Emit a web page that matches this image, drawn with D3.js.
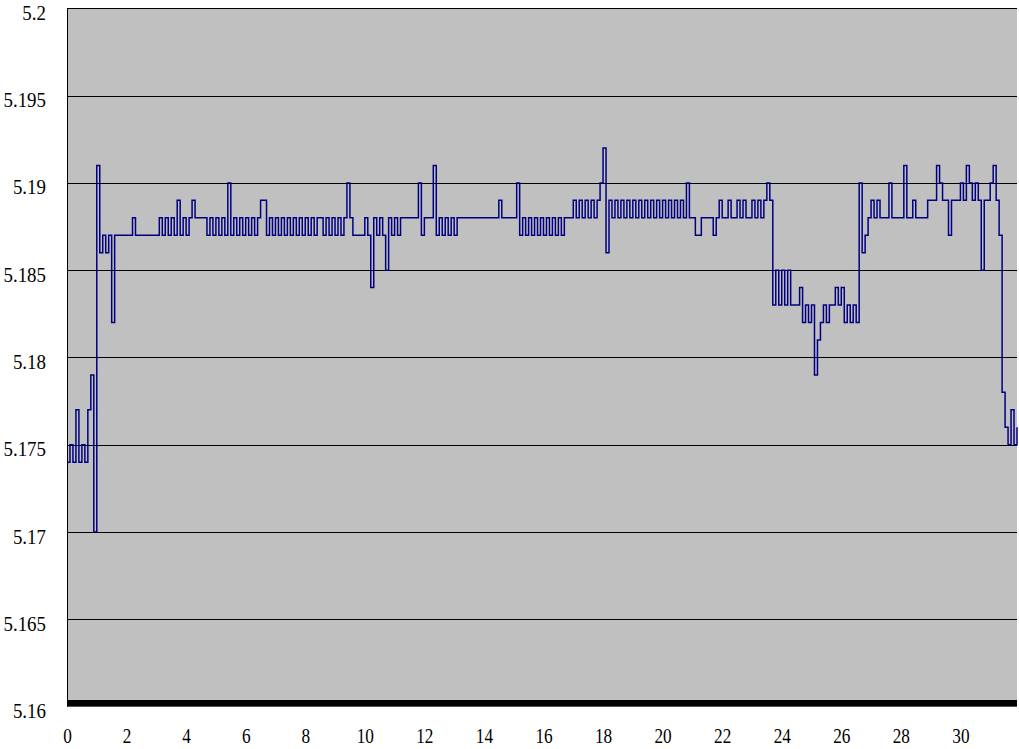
<!DOCTYPE html>
<html>
<head>
<meta charset="utf-8">
<script src="https://cdn.jsdelivr.net/npm/d3@7"></script>
<style>
  html, body { margin: 0; padding: 0; background: #ffffff; }
  svg { display: block; }
</style>
</head>
<body>
<svg id="chart" width="1019" height="749"></svg>
<script>
// ---- data (sample every 0.1 time units, starting at t = 0) ----
const timeStep = 0.1;
const seriesA = [ // t 0.0 - 3.9
  5.174,5.175,5.174,5.177,5.174,5.175,5.174,5.177,5.179,5.170,
  5.191,5.186,5.187,5.186,5.187,5.182,5.187,5.187,5.187,5.187,
  5.187,5.187,5.188,5.187,5.187,5.187,5.187,5.187,5.187,5.187,
  5.187,5.188,5.187,5.188,5.187,5.188,5.187,5.189,5.187,5.188];
const seriesB = [ // t 4.0 - 7.9
  5.187,5.188,5.189,5.188,5.188,5.188,5.188,5.187,5.188,5.187,
  5.188,5.187,5.188,5.187,5.190,5.187,5.188,5.187,5.188,5.187,
  5.188,5.187,5.188,5.187,5.188,5.189,5.189,5.187,5.188,5.187,
  5.188,5.187,5.188,5.187,5.188,5.187,5.188,5.187,5.188,5.187];
const seriesC = [ // t 8.0 - 11.9
  5.188,5.187,5.188,5.187,5.188,5.188,5.187,5.188,5.187,5.188,
  5.187,5.188,5.187,5.188,5.190,5.188,5.187,5.187,5.187,5.187,
  5.188,5.187,5.184,5.188,5.187,5.188,5.187,5.185,5.188,5.187,
  5.188,5.187,5.188,5.188,5.188,5.188,5.188,5.188,5.190,5.187];
const seriesD = [ // t 12.0 - 15.9
  5.188,5.188,5.188,5.191,5.187,5.188,5.187,5.188,5.187,5.188,
  5.187,5.188,5.188,5.188,5.188,5.188,5.188,5.188,5.188,5.188,
  5.188,5.188,5.188,5.188,5.188,5.189,5.188,5.188,5.188,5.188,
  5.188,5.190,5.187,5.188,5.187,5.188,5.187,5.188,5.187,5.188];
const seriesE = [ // t 16.0 - 19.9
  5.187,5.188,5.187,5.188,5.187,5.188,5.187,5.188,5.188,5.188,
  5.189,5.188,5.189,5.188,5.189,5.188,5.189,5.188,5.189,5.190,
  5.192,5.186,5.189,5.188,5.189,5.188,5.189,5.188,5.189,5.188,
  5.189,5.188,5.189,5.188,5.189,5.188,5.189,5.188,5.189,5.188];
const seriesF = [ // t 20.0 - 23.9
  5.189,5.188,5.189,5.188,5.189,5.188,5.189,5.188,5.190,5.188,
  5.188,5.187,5.187,5.188,5.188,5.188,5.188,5.187,5.188,5.189,
  5.188,5.188,5.189,5.188,5.188,5.189,5.188,5.189,5.188,5.188,
  5.189,5.188,5.189,5.188,5.189,5.190,5.189,5.183,5.185,5.183];
const seriesG = [ // t 24.0 - 27.9
  5.185,5.183,5.185,5.183,5.183,5.183,5.184,5.182,5.183,5.182,
  5.183,5.179,5.181,5.182,5.183,5.182,5.183,5.183,5.184,5.183,
  5.184,5.182,5.183,5.182,5.183,5.182,5.190,5.186,5.187,5.188,
  5.189,5.188,5.189,5.188,5.188,5.188,5.190,5.188,5.188,5.188];
const seriesH = [ // t 28.0 - 31.9
  5.188,5.191,5.188,5.188,5.189,5.188,5.188,5.188,5.188,5.189,
  5.189,5.189,5.191,5.190,5.189,5.189,5.187,5.189,5.189,5.189,
  5.190,5.189,5.191,5.190,5.189,5.190,5.189,5.185,5.189,5.189,
  5.190,5.191,5.189,5.187,5.178,5.176,5.175,5.177,5.175,5.176];

const yTicks = [5.16, 5.165, 5.17, 5.175, 5.18, 5.185, 5.19, 5.195, 5.2];
const yTickLabels = ["5.16","5.165","5.17","5.175","5.18","5.185","5.19","5.195","5.2"];
const xTicks = [0,2,4,6,8,10,12,14,16,18,20,22,24,26,28,30];

// ---- build ----
const values = [].concat(seriesA, seriesB, seriesC, seriesD, seriesE, seriesF, seriesG, seriesH);
const data = values.map((v, i) => ({ t: +(i * timeStep).toFixed(1), v }));

const svg = d3.select("#chart");
const plotLeft = 67, plotRight = 1017, plotTop = 8.3, plotBottom = 706.6;

const x = d3.scaleLinear().domain([0, 31.9]).range([plotLeft, plotRight]);
const y = d3.scaleLinear().domain([5.16, 5.2]).range([plotBottom, plotTop]);

// plot background
svg.append("rect")
  .attr("x", plotLeft).attr("y", plotTop)
  .attr("width", plotRight - plotLeft).attr("height", plotBottom - plotTop)
  .attr("fill", "#c0c0c0");

// gridlines
svg.append("g").selectAll("line").data(yTicks.filter(d => d > 5.16)).join("line")
  .attr("x1", plotLeft).attr("x2", plotRight)
  .attr("y1", d => Math.round(y(d)) + 0.5).attr("y2", d => Math.round(y(d)) + 0.5)
  .attr("stroke", "#000").attr("stroke-width", 1);

// data line
const line = d3.line().x(d => x(d.t)).y(d => y(d.v)).curve(d3.curveStepAfter);
svg.append("path").datum(data)
  .attr("d", line)
  .attr("fill", "none")
  .attr("stroke", "#000080")
  .attr("stroke-width", 1.5);

// y axis line
svg.append("line")
  .attr("x1", plotLeft + 0.5).attr("x2", plotLeft + 0.5)
  .attr("y1", plotTop).attr("y2", plotBottom)
  .attr("stroke", "#000").attr("stroke-width", 1);

// thick bottom axis bar
svg.append("rect")
  .attr("x", plotLeft).attr("y", plotBottom - 6.6)
  .attr("width", plotRight - plotLeft).attr("height", 6.6)
  .attr("fill", "#000");

// y labels
const yAxis = d3.axisLeft(y).tickValues(yTicks)
  .tickFormat((d, i) => yTickLabels[i]).tickSize(0).tickPadding(0);
const gy = svg.append("g").attr("transform", "translate(46,0)").call(yAxis);
gy.select(".domain").remove();
gy.selectAll("text")
  .attr("font-family", "'Liberation Serif', 'Times New Roman', serif")
  .attr("font-size", 22)
  .attr("fill", "#000")
  .attr("dy", null)
  .attr("y", 11)
  .attr("x", 0)
  .attr("text-anchor", "end")
  .attr("transform", "scale(0.86,1)");

// x labels
const xAxis = d3.axisBottom(x).tickValues(xTicks).tickFormat(d3.format("d")).tickSize(0).tickPadding(0);
const gx = svg.append("g").call(xAxis);
gx.select(".domain").remove();
gx.selectAll("text")
  .attr("font-family", "'Liberation Serif', 'Times New Roman', serif")
  .attr("font-size", 21)
  .attr("fill", "#000")
  .attr("dy", null)
  .attr("y", 743)
  .attr("transform", "scale(0.82,1)");
</script>
</body>
</html>
